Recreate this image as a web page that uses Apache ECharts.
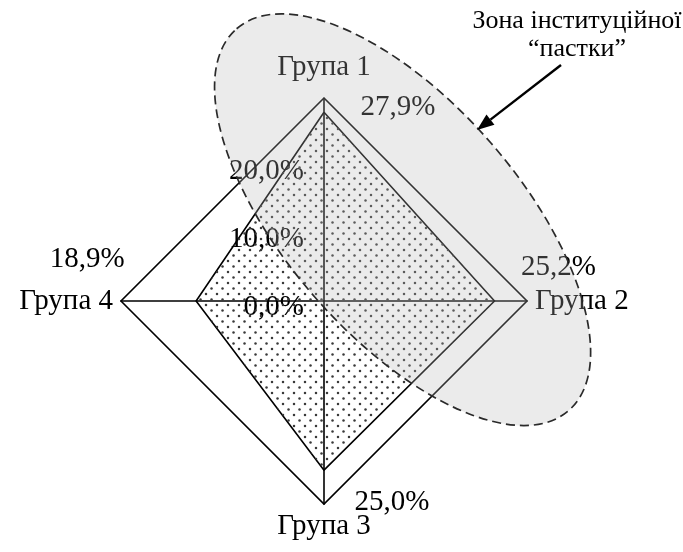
<!DOCTYPE html>
<html>
<head>
<meta charset="utf-8">
<script src="https://cdn.jsdelivr.net/npm/echarts@6/dist/echarts.min.js"></script>
<style>
  html, body { margin: 0; padding: 0; background: #fff; }
  #chart { width: 683px; height: 552px; }
</style>
</head>
<body>
<div id="chart"></div>
<script>
// Group shares, in natural order (Група 1..4)
const groups = ['Група 1', 'Група 2', 'Група 3', 'Група 4'];
const shares = [27.9, 25.2, 25.0, 18.9];
const axisMax = 30;
const axisStep = 10;
const zoneCaption = 'Зона інституційної\n\u201Cпастки\u201D';

// Radar draws indicators counter-clockwise from the top; list them so that
// Група 2 sits on the right and Група 4 on the left.
const order = [0, 3, 2, 1];
const FONT = '"Liberation Serif", "Times New Roman", serif';
const FS = 29;

function pct(v) { return v.toFixed(1).replace('.', ',') + '%'; }

// Dot-stipple pattern for the filled area
function dotPattern() {
  const c = document.createElement('canvas');
  c.width = 11; c.height = 11;
  const g = c.getContext('2d');
  g.fillStyle = '#3a3a3a';
  [[2.5, 2.5], [8, 8]].forEach(function (p) {
    g.beginPath(); g.arc(p[0], p[1], 1.25, 0, Math.PI * 2); g.fill();
  });
  return c;
}

const indicator = order.map(function (i, k) {
  const item = { name: groups[i], min: 0, max: axisMax };
  if (k === 0) item.axisLabel = { show: true };
  return item;
});
const orderedShares = order.map(function (i) { return shares[i]; });

// Per-vertex label placement (offset from the vertex, in px)
const labelOffsets = [[74, -5], [-109, -42], [68, 32], [64, -34]];

const series = [{
  type: 'radar',
  symbol: 'none',
  lineStyle: { color: '#000', width: 1.6 },
  areaStyle: { color: { image: dotPattern(), repeat: 'repeat' }, opacity: 1 },
  data: [{ value: orderedShares }],
  z: 2
}];

order.forEach(function (gi, k) {
  series.push({
    type: 'radar',
    symbol: 'circle',
    symbolSize: 1,
    itemStyle: { color: 'rgba(0,0,0,0)' },
    lineStyle: { width: 0, opacity: 0 },
    silent: true,
    label: {
      show: true,
      position: 'inside',
      offset: labelOffsets[k],
      color: '#000',
      fontFamily: FONT,
      fontSize: FS,
      formatter: function (p) { return p.value ? pct(p.value) : ''; }
    },
    data: [{ value: orderedShares.map(function (v, j) { return j === k ? v : 0; }) }],
    z: 3
  });
});

// Arrow pointing at the zone
const arrowFrom = [561, 65], arrowTip = [477, 130];
const dx = arrowTip[0] - arrowFrom[0], dy = arrowTip[1] - arrowFrom[1];
const len = Math.sqrt(dx * dx + dy * dy);
const ux = dx / len, uy = dy / len;
const headLen = 17, headHalf = 6.5;
const bx = arrowTip[0] - ux * headLen, by = arrowTip[1] - uy * headLen;

const chart = echarts.init(document.getElementById('chart'), null, { renderer: 'canvas' });
chart.setOption({
  backgroundColor: '#fff',
  animation: false,
  radar: {
    center: [324, 301],
    radius: 203,
    startAngle: 90,
    splitNumber: axisMax / axisStep,
    shape: 'polygon',
    indicator: indicator,
    axisName: {
      color: '#000', fontFamily: FONT, fontSize: FS,
      formatter: function (name) { return name === groups[0] ? '{top|' + name + '}' : name; },
      rich: { top: { color: '#000', fontFamily: FONT, fontSize: FS, padding: [0, 0, 8, 0] } }
    },
    nameGap: 8,
    axisLine: { lineStyle: { color: '#000', width: 1.6 } },
    axisTick: { show: false },
    axisLabel: {
      show: false,
      showMaxLabel: false,
      color: '#000',
      fontFamily: FONT,
      fontSize: FS,
      margin: 20,
      formatter: function (v) { return '{v|' + pct(v) + '}'; },
      rich: { v: { color: '#000', fontFamily: FONT, fontSize: FS, padding: [12, 0, 0, 0] } }
    },
    splitLine: {
      lineStyle: { color: ['rgba(0,0,0,0)', 'rgba(0,0,0,0)', 'rgba(0,0,0,0)', '#000'], width: 1.6 }
    },
    splitArea: { show: false }
  },
  series: series,
  graphic: [
    {
      type: 'ellipse',
      x: 402.6, y: 219.7,
      rotation: -49 * Math.PI / 180,
      shape: { cx: 0, cy: 0, rx: 253, ry: 117 },
      style: {
        fill: 'rgba(182,182,182,0.28)',
        stroke: '#2a2a2a',
        lineWidth: 1.7,
        lineDash: [9, 5]
      },
      z: 100
    },
    {
      type: 'line',
      shape: { x1: arrowFrom[0], y1: arrowFrom[1], x2: bx, y2: by },
      style: { stroke: '#000', lineWidth: 2.4 },
      z: 101
    },
    {
      type: 'polygon',
      shape: { points: [
        arrowTip,
        [bx + uy * headHalf, by - ux * headHalf],
        [bx - uy * headHalf, by + ux * headHalf]
      ] },
      style: { fill: '#000' },
      z: 101
    },
    {
      type: 'text',
      x: 577, y: 7,
      style: {
        text: zoneCaption,
        fill: '#000',
        font: '26px ' + FONT,
        textAlign: 'center',
        lineHeight: 28
      },
      z: 101
    }
  ]
});
</script>
</body>
</html>
